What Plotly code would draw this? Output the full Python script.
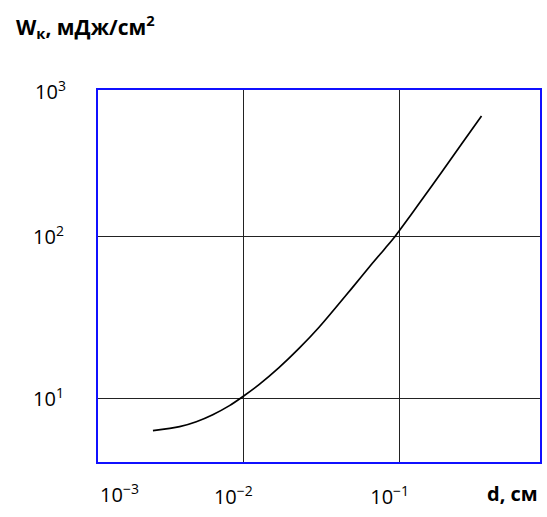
import plotly.graph_objects as go

# Critical energy density vs. thickness
d_cm = [0.00264, 0.00391, 0.00500, 0.00637, 0.00815, 0.0100, 0.01265, 0.0169,
        0.0227, 0.0305, 0.0497, 0.0667, 0.0811, 0.0929, 0.1000, 0.139, 0.186,
        0.249, 0.334]
w_mj = [6.37, 6.75, 7.24, 8.0, 9.1, 10.4, 12.3, 15.6, 20.5, 27.7, 48.5,
        68.5, 85.5, 100.0, 110.0, 170, 252, 375, 558]

x_ticks = [0.01, 0.1]
x_tick_text = ["10<sup>−2</sup>", "10<sup>−1</sup>"]
y_ticks = [10, 100]
y_tick_text = ["10<sup>1</sup>", "10<sup>2</sup>"]

FONT = "Open Sans"
BLUE = "#1010ff"
TICK_SIZE = 20

fig = go.Figure()
fig.add_trace(go.Scatter(
    x=d_cm, y=w_mj, mode="lines",
    line=dict(color="black", width=1.7, shape="spline", smoothing=0.8),
    showlegend=False, hoverinfo="skip",
))

fig.update_layout(
    width=547, height=517,
    margin=dict(l=98, r=5, t=90, b=55),
    paper_bgcolor="white", plot_bgcolor="white",
    font=dict(family=FONT, size=TICK_SIZE, color="black"),
    xaxis=dict(
        type="log", range=[-2.930, -0.102],
        tickvals=x_ticks, ticktext=x_tick_text,
        tickfont=dict(family=FONT, size=TICK_SIZE, color="black"),
        showgrid=True, gridcolor="#222222", gridwidth=1,
        showline=True, linecolor=BLUE, linewidth=2, mirror=True,
        ticks="", ticklabelstandoff=16, ticklabelshift=-10,
        zeroline=False,
    ),
    yaxis=dict(
        type="log", range=[0.611, 2.907],
        tickvals=y_ticks, ticktext=y_tick_text,
        tickfont=dict(family=FONT, size=TICK_SIZE, color="black"),
        showgrid=True, gridcolor="#222222", gridwidth=1,
        showline=True, linecolor=BLUE, linewidth=2, mirror=True,
        ticks="", ticklabelstandoff=28,
        zeroline=False,
    ),
    annotations=[
        dict(text="10<sup>−3</sup>", xref="paper", yref="paper",
             x=0, y=-0.086, xanchor="left", yanchor="middle",
             showarrow=False,
             font=dict(family=FONT, size=TICK_SIZE, color="black")),
        dict(text="10<sup>3</sup>", xref="paper", yref="paper",
             x=0, y=1, xanchor="right", yanchor="middle", xshift=-30,
             showarrow=False,
             font=dict(family=FONT, size=TICK_SIZE, color="black")),
        dict(text="<b>W<sub>к</sub>, мДж/см<sup>2</sup></b>",
             xref="paper", yref="paper", x=-0.19, y=1.172,
             xanchor="left", yanchor="middle", showarrow=False,
             font=dict(family=FONT, size=21, color="black")),
        dict(text="<b>d, см</b>", xref="paper", yref="paper",
             x=1, y=-0.086, xanchor="right", yanchor="middle",
             showarrow=False,
             font=dict(family=FONT, size=20, color="black")),
    ],
)

fig.write_html("out.html")
